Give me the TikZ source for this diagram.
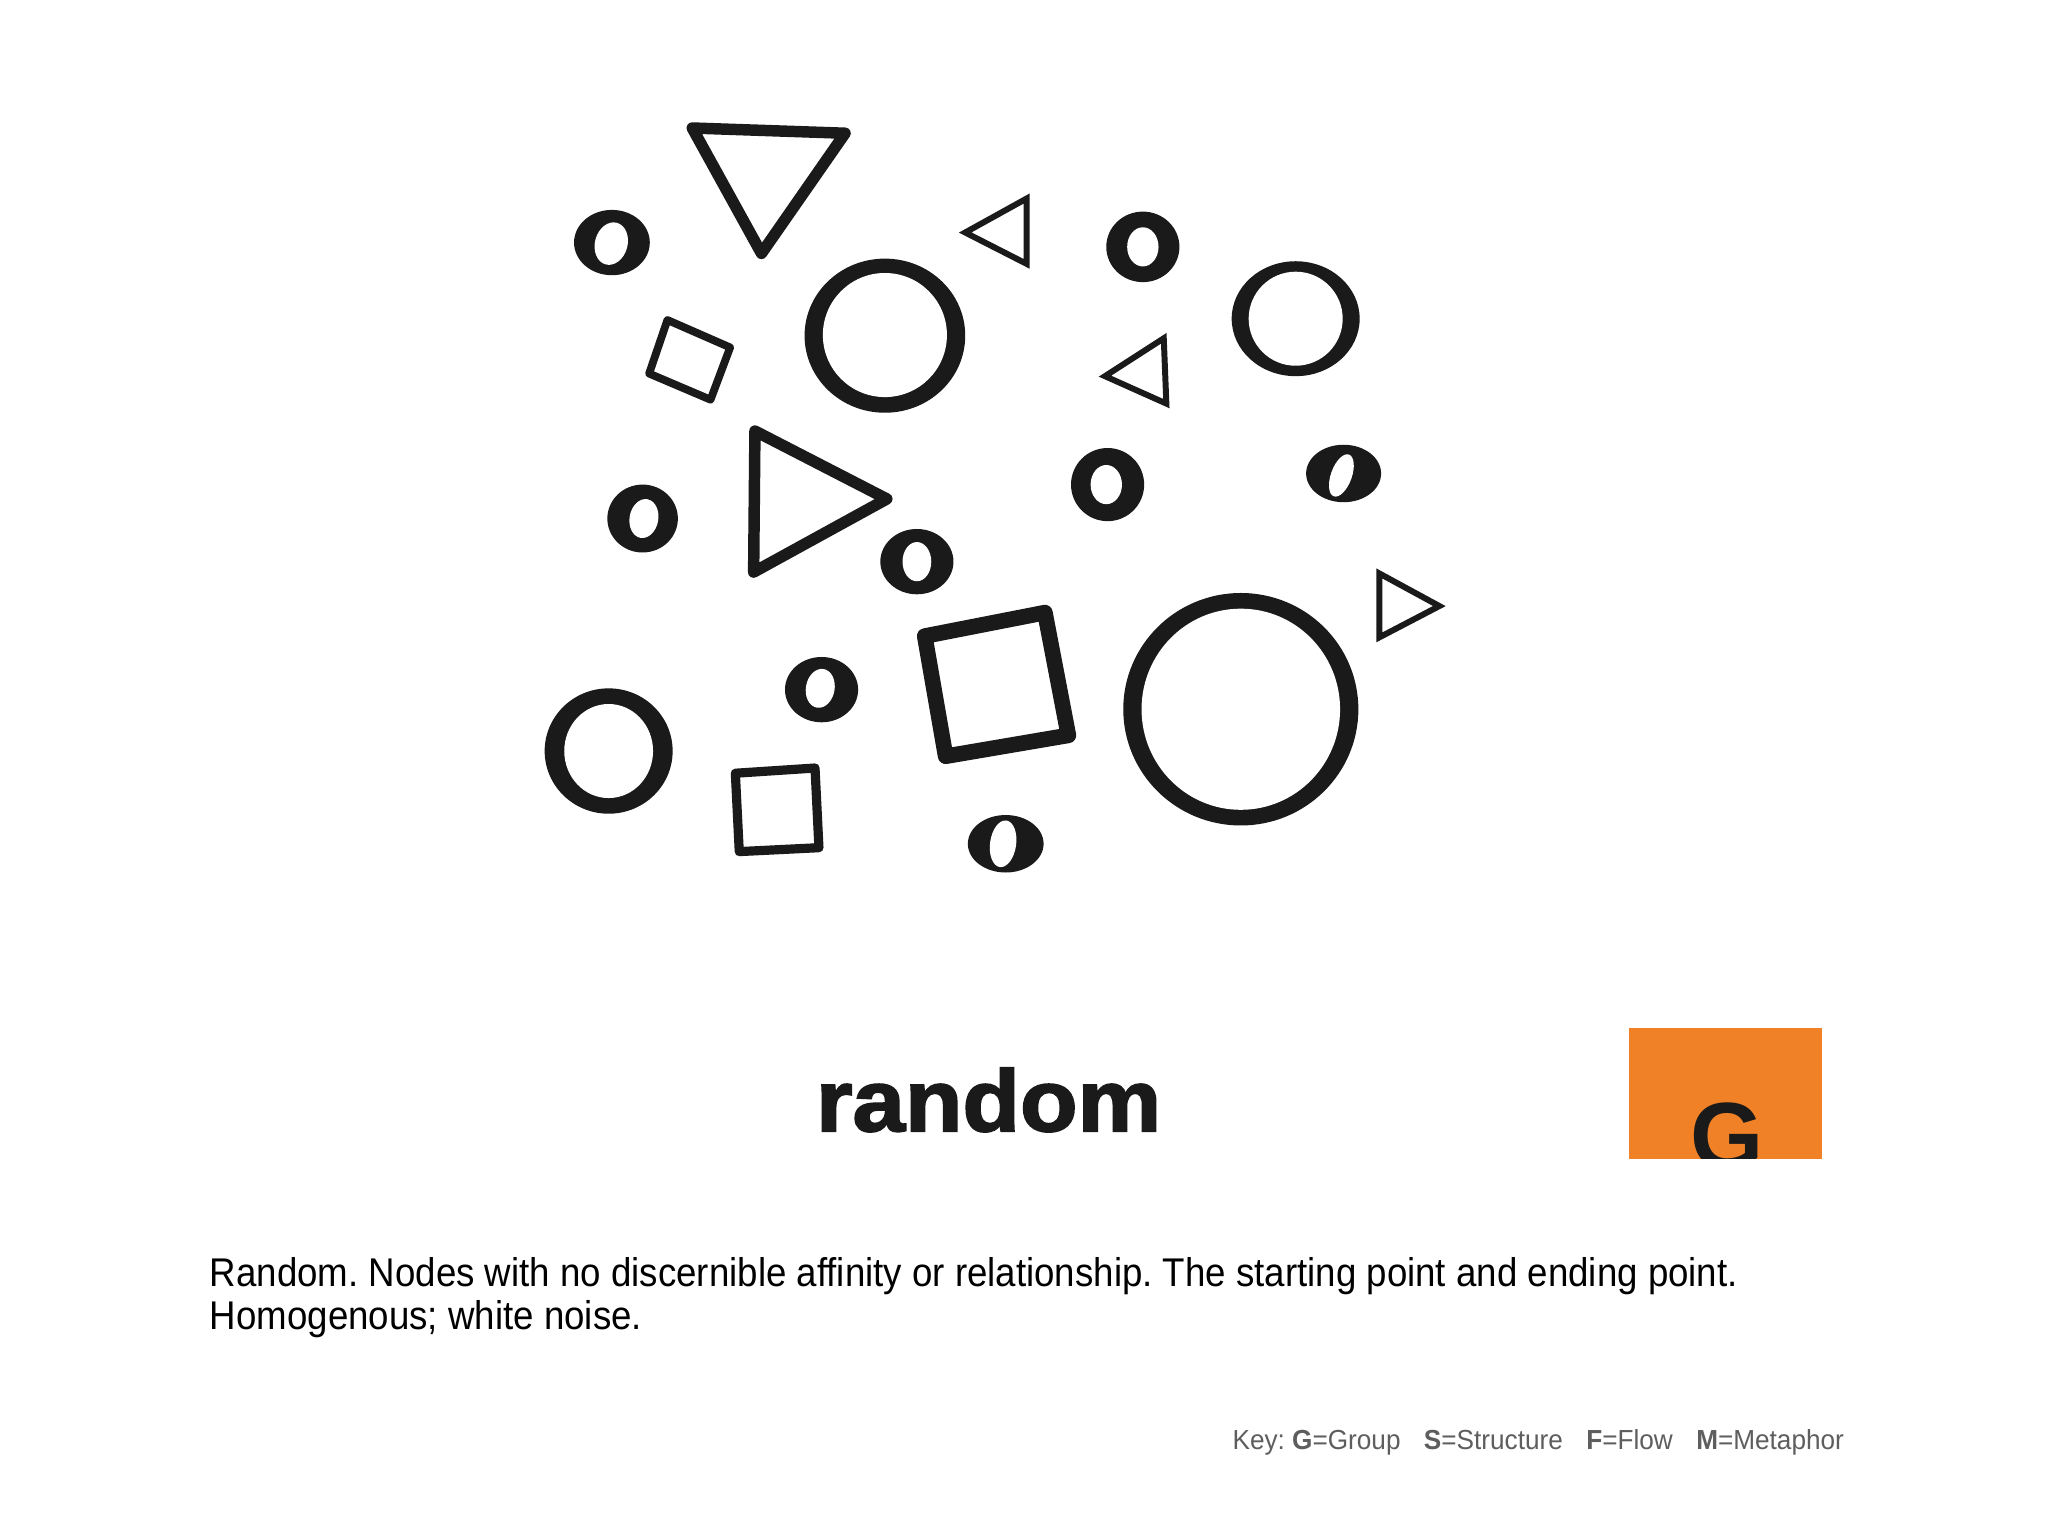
\documentclass[tikz,border=0pt]{standalone}
\usepackage{fontspec}
\setmainfont{Liberation Sans}
\newfontfamily\titlefont[FakeStretch=1.08,FakeBold=2.2]{Liberation Sans Bold}
\newfontfamily\capfont[FakeStretch=0.915]{Liberation Sans}
\newfontfamily\keyfont[FakeStretch=0.95]{Liberation Sans}
\definecolor{ink}{HTML}{1A1A1A}
\definecolor{gorange}{HTML}{F08127}
\definecolor{keygray}{HTML}{5E5E5E}
\begin{document}
\frenchspacing
\begin{tikzpicture}[x=0.1mm,y=-0.1mm,
  ring/.style={fill=ink},
  hole/.style={fill=white},
  trithick/.style={draw=ink,line join=round,line width=2.5pt},
  trithin/.style={draw=ink,line join=miter,line width=1.3pt},
  sqbox/.style={draw=ink,line join=round},
  txt/.style={inner sep=0pt,anchor=base west}]
\useasboundingbox[fill=white] (0,0) rectangle (1568,1176);
% big triangles
\draw[trithick] (530,98) -- (647,102) -- (583,194) -- cycle;
\draw[trithick] (578,330) -- (679,382) -- (577,438) -- cycle;
% thin triangles
\draw[trithin] (786,152) -- (739,178) -- (786,202) -- cycle;
\draw[trithin] (891,259) -- (846,288) -- (893,309) -- cycle;
\draw[trithin] (1056,439) -- (1102,464) -- (1056,488) -- cycle;
% squares
\draw[sqbox,line width=1.7pt] (511,245) -- (559,266) -- (544,306) -- (497,286) -- cycle;
\draw[sqbox,line width=3.4pt] (708,487) -- (800,469) -- (818,563) -- (724,579) -- cycle;
\draw[sqbox,line width=2pt] (563,592) -- (624,588) -- (627,649) -- (566,652) -- cycle;
% small rings
\fill[ring] (468.5,185.7) ellipse (29 and 25);
\fill[hole,rotate around={-15:(468,186.5)}] (468,186.5) ellipse (12.5 and 16.5);
\fill[ring] (875,189) ellipse (28 and 27);
\fill[hole] (875,189) ellipse (12 and 15);
\fill[ring] (492,397) ellipse (27 and 26);
\fill[hole,rotate around={-10:(493,397)}] (493,397) ellipse (11 and 15);
\fill[ring] (848,371) ellipse (28 and 28);
\fill[hole] (847,371) ellipse (12 and 15);
\fill[ring] (1028.7,362.5) ellipse (28.7 and 22);
\fill[hole,rotate around={-20:(1027,364)}] (1027,364) ellipse (8 and 17);
\fill[ring] (702,430) ellipse (28 and 25);
\fill[hole] (702,430) ellipse (11 and 15);
\fill[ring] (629,528) ellipse (28 and 25);
\fill[hole,rotate around={-10:(628,527)}] (628,527) ellipse (11 and 15);
\fill[ring] (770,646) ellipse (29 and 22);
\fill[hole,rotate around={-8:(768,646)}] (768,646) ellipse (10 and 18);
% big rings
\fill[ring] (677.5,257) ellipse (61.5 and 59);
\fill[hole] (677.5,256.5) ellipse (47.5 and 47.5);
\fill[ring] (992,244) ellipse (49 and 44);
\fill[hole] (992,244) ellipse (36 and 36);
\fill[ring] (950,543) ellipse (90 and 89);
\fill[hole] (950,543) ellipse (76 and 77);
\fill[ring] (466,575) ellipse (49 and 48);
\fill[hole] (466,575) ellipse (34 and 36);
% title
\node[txt,font=\titlefont\fontsize{19}{19}\selectfont,text=ink] (title) at (624,866) {random};
% G box
\begin{scope}
\clip (1247,787) rectangle (1395,887);
\fill[gorange] (1247,787) rectangle (1395,887);
\node[inner sep=0pt,anchor=base,font=\bfseries\fontsize{20.5}{20.5}\selectfont,text=ink] (g) at (1322,895) {G};
\end{scope}
% caption
\node[txt,font=\capfont\fontsize{8.73}{9.4}\selectfont] (cap1) at (160,985) {Random. Nodes with no discernible affinity or relationship. The starting point and ending point.};
\node[txt,font=\capfont\fontsize{8.73}{9.4}\selectfont] (cap2) at (160,1018) {Homogenous; white noise.};
% key
\node[txt,font=\keyfont\fontsize{6}{6}\selectfont,text=keygray] (key) at (943,1110) {Key: \textbf{G}=Group\hspace{0.85em}\textbf{S}=Structure\hspace{0.85em}\textbf{F}=Flow\hspace{0.85em}\textbf{M}=Metaphor};
\end{tikzpicture}
\end{document}
